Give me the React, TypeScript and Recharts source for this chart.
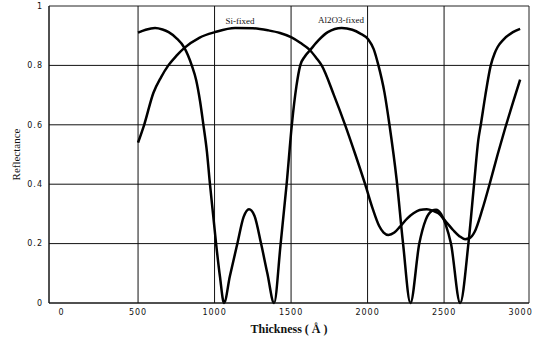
import React from "react";
import {
  LineChart,
  Line,
  XAxis,
  YAxis,
  ReferenceLine,
  ReferenceArea,
  ReferenceDot,
} from "recharts";

// thickness (Å) -> reflectance
const broadX = [500, 540, 600, 650, 698, 750, 803, 900, 1003, 1134, 1250, 1350, 1428, 1500, 1560, 1624, 1665, 1700, 1780, 1853, 1920, 1984, 2035, 2075, 2105, 2136, 2175, 2212, 2260, 2300, 2340, 2387, 2430, 2463, 2510, 2560, 2600, 2637, 2665, 2700, 2750, 2800, 2850, 2900, 2950, 2997];
const broadY = [0.54, 0.6, 0.707, 0.76, 0.8, 0.832, 0.859, 0.893, 0.912, 0.926, 0.925, 0.918, 0.909, 0.895, 0.876, 0.851, 0.825, 0.8, 0.7, 0.6, 0.5, 0.4, 0.315, 0.26, 0.237, 0.229, 0.237, 0.257, 0.285, 0.302, 0.313, 0.316, 0.31, 0.302, 0.275, 0.245, 0.225, 0.215, 0.218, 0.24, 0.315, 0.405, 0.5, 0.59, 0.675, 0.752];

const waveX = [500, 550, 611, 660, 700, 750, 803, 851, 880, 905, 927, 950, 970, 990, 1010, 1035, 1062, 1100, 1149, 1190, 1225, 1260, 1304, 1345, 1389, 1432, 1471, 1505, 1535, 1560, 1590, 1624, 1680, 1740, 1831, 1900, 1950, 2005, 2040, 2071, 2110, 2143, 2190, 2232, 2280, 2338, 2380, 2420, 2448, 2480, 2510, 2545, 2605, 2659, 2696, 2724, 2740, 2770, 2805, 2830, 2850, 2888, 2950, 2997];
const waveY = [0.91, 0.92, 0.926, 0.921, 0.912, 0.892, 0.859, 0.8, 0.75, 0.68, 0.6, 0.51, 0.4, 0.3, 0.2, 0.09, 0, 0.09, 0.2, 0.29, 0.316, 0.295, 0.2, 0.1, 0, 0.2, 0.4, 0.6, 0.73, 0.8, 0.83, 0.851, 0.885, 0.912, 0.926, 0.92, 0.908, 0.887, 0.855, 0.8, 0.71, 0.6, 0.415, 0.2, 0, 0.2, 0.28, 0.31, 0.314, 0.3, 0.265, 0.2, 0, 0.2, 0.4, 0.55, 0.6, 0.7, 0.8, 0.84, 0.862, 0.887, 0.912, 0.923];

const xTicks = [0, 500, 1000, 1500, 2000, 2500, 3000];
const yTicks = [0, 0.2, 0.4, 0.6, 0.8, 1];
const xGrid = [500, 1000, 1500, 2000, 2500];
const yGrid = [0.2, 0.4, 0.6, 0.8];

const broadData = broadX.map((x, i) => ({ x, r: broadY[i] }));
const waveData = waveX.map((x, i) => ({ x, r: waveY[i] }));

const tickStyle = { fontSize: 8, fill: "#111", fontFamily: "DejaVu Sans", letterSpacing: 1 };

const App: React.FC = () => {
  return (
    <div style={{ position: "absolute", left: 0, top: 0, background: "#fff" }}>
      <LineChart width={538} height={345} margin={{ top: 6, right: 9, bottom: 12, left: 0 }}>
        <ReferenceArea x1={-82} x2={3055} y1={0} y2={1} fill="none" stroke="#222" strokeWidth={1} />
        {xGrid.map((v) => (
          <ReferenceLine key={"vx" + v} x={v} stroke="#111" strokeWidth={1} />
        ))}
        {yGrid.map((v) => (
          <ReferenceLine key={"hy" + v} y={v} stroke="#111" strokeWidth={1} />
        ))}
        <XAxis
          type="number"
          dataKey="x"
          domain={[-82, 3055]}
          ticks={xTicks}
          allowDataOverflow
          axisLine={{ stroke: "#111" }}
          tickLine={false}
          tickSize={4}
          tick={tickStyle}
          height={30}
          label={{
            value: "Thickness ( Å )",
            position: "insideBottom",
            offset: 0,
            style: { fontSize: 12, fontFamily: "Liberation Serif", fontWeight: "bold", fill: "#111" },
          }}
        />
        <YAxis
          type="number"
          domain={[0, 1]}
          ticks={yTicks}
          axisLine={{ stroke: "#111" }}
          tickLine={false}
          tickSize={4}
          width={49}
          tick={tickStyle}
          label={{
            value: "Reflectance",
            angle: -90,
            position: "insideLeft",
            offset: 16,
            style: { fontSize: 11, fontFamily: "Liberation Serif", fill: "#111", textAnchor: "middle" },
          }}
        />
        <Line data={broadData} dataKey="r" type="monotone" stroke="#000" strokeWidth={2.5} dot={false} isAnimationActive={false} />
        <Line data={waveData} dataKey="r" type="monotone" stroke="#000" strokeWidth={2.5} dot={false} isAnimationActive={false} />
        <ReferenceDot
          x={1167}
          y={0.95}
          r={0}
          label={{ value: "Si-fixed", position: "center", style: { fontSize: 9, fontFamily: "Liberation Serif", fill: "#111" } }}
        />
        <ReferenceDot
          x={1827}
          y={0.955}
          r={0}
          label={{ value: "Al2O3-fixed", position: "center", style: { fontSize: 9, fontFamily: "Liberation Serif", fill: "#111" } }}
        />
      </LineChart>
    </div>
  );
};

export default App;
